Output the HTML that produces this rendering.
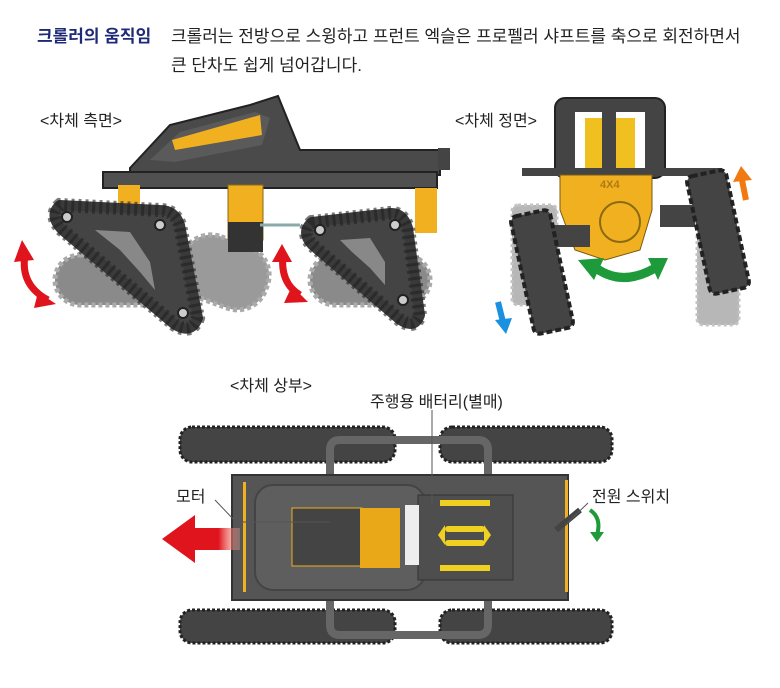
<!DOCTYPE html>
<html><head><meta charset="utf-8"><style>
body{margin:0;background:#fff;width:780px;height:688px;overflow:hidden;position:relative;font-family:"Liberation Sans","Noto Sans CJK KR",sans-serif;}
.t{position:absolute;color:#222;font-size:16px;white-space:nowrap;}
svg{position:absolute;left:0;top:0}
</style></head><body>
<svg width="780" height="688" viewBox="0 0 780 688">
<defs>
<linearGradient id="rg" x1="0" x2="1"><stop offset="0" stop-color="#e0141c"/><stop offset="0.6" stop-color="#e0141c"/><stop offset="1" stop-color="#f5b0a0" stop-opacity="0.3"/></linearGradient>
</defs>
<!-- SIDE VIEW -->
<g>
 <rect x="55" y="255" width="120" height="50" rx="25" fill="#8a8a8a" stroke="#aaa" stroke-width="5" stroke-dasharray="4 3"/>
 <rect x="180" y="240" width="90" height="65" rx="30" fill="#9a9a9a" stroke="#aaa" stroke-width="5" stroke-dasharray="4 3" transform="rotate(20 225 270)"/>
 <rect x="310" y="255" width="120" height="50" rx="25" fill="#8a8a8a" stroke="#aaa" stroke-width="5" stroke-dasharray="4 3"/>
 <polygon points="130,168 170,125 250,105 278,96 300,150 440,150 440,175 130,175" fill="#4a4a4a" stroke="#222" stroke-width="2"/>
 <polygon points="150,160 180,132 255,112 270,118 262,145 175,162" fill="#5a5a5a"/>
 <polygon points="172,140 260,115 262,135 175,150" fill="#f0b020"/>
 <rect x="103" y="172" width="334" height="16" fill="#505050" stroke="#222" stroke-width="2"/>
 <rect x="438" y="148" width="12" height="22" fill="#444"/>
 <rect x="228" y="185" width="35" height="55" fill="#f0b020" stroke="#8a6a10"/>
 <rect x="228" y="222" width="35" height="30" fill="#333"/>
 <rect x="118" y="185" width="22" height="30" fill="#f0b020"/>
 <rect x="415" y="188" width="22" height="45" fill="#f0b020"/>
 <line x1="260" y1="225" x2="300" y2="225" stroke="#8aa" stroke-width="3"/>
 <path d="M60,205 Q48,215 62,230 L175,325 Q192,335 198,318 L180,225 Q175,210 160,210 Z" fill="#444" stroke="#3a3a3a" stroke-width="10" stroke-linejoin="round"/>
 <path d="M60,205 Q48,215 62,230 L175,325 Q192,335 198,318 L180,225 Q175,210 160,210 Z" fill="none" stroke="#222" stroke-width="14" stroke-dasharray="3 4" opacity="0.6"/>
 <polygon points="95,230 130,232 150,262 155,290 140,272 120,250" fill="#888"/>
 <circle cx="67" cy="217" r="5" fill="#ccc" stroke="#222" stroke-width="2"/>
 <circle cx="160" cy="225" r="5" fill="#ccc" stroke="#222" stroke-width="2"/>
 <circle cx="183" cy="313" r="5" fill="#ccc" stroke="#222" stroke-width="2"/>
 <path d="M312,222 Q300,232 312,245 L400,320 Q415,330 420,315 L408,228 Q403,212 390,213 Z" fill="#444" stroke="#3a3a3a" stroke-width="10" stroke-linejoin="round"/>
 <path d="M312,222 Q300,232 312,245 L400,320 Q415,330 420,315 L408,228 Q403,212 390,213 Z" fill="none" stroke="#222" stroke-width="14" stroke-dasharray="3 4" opacity="0.6"/>
 <polygon points="340,240 370,238 385,262 385,285 370,268 352,252" fill="#888"/>
 <circle cx="320" cy="230" r="5" fill="#ccc" stroke="#222" stroke-width="2"/>
 <circle cx="395" cy="225" r="5" fill="#ccc" stroke="#222" stroke-width="2"/>
 <circle cx="403" cy="300" r="5" fill="#ccc" stroke="#222" stroke-width="2"/>
 <path d="M25,255 Q20,285 48,300" fill="none" stroke="#e0141c" stroke-width="7"/>
 <polygon points="14,262 22,240 34,260" fill="#e0141c"/><polygon points="38,292 56,304 34,308" fill="#e0141c"/>
 <path d="M283,255 Q280,283 300,295" fill="none" stroke="#e0141c" stroke-width="7"/>
 <polygon points="272,262 282,244 292,262" fill="#e0141c"/><polygon points="292,286 308,302 284,303" fill="#e0141c"/>
</g>
<!-- FRONT VIEW -->
<g>
 <rect x="512" y="205" width="45" height="100" rx="6" fill="#999" opacity="0.7" stroke="#aaa" stroke-width="3" stroke-dasharray="3 3"/>
 <rect x="697" y="230" width="42" height="95" rx="6" fill="#999" opacity="0.7" stroke="#aaa" stroke-width="3" stroke-dasharray="3 3"/>
 <rect x="555" y="98" width="110" height="80" rx="10" fill="#444" stroke="#222" stroke-width="2"/>
 <rect x="575" y="112" width="70" height="60" fill="#fff"/>
 <rect x="585" y="118" width="50" height="50" fill="#f0c020"/>
 <rect x="602" y="100" width="14" height="75" fill="#444"/>
 <rect x="522" y="168" width="200" height="8" fill="#444"/>
 <polygon points="560,175 652,175 652,210 640,250 605,260 575,250 560,210" fill="#f0b020" stroke="#7a5a10"/>
 <circle cx="620" cy="222" r="20" fill="#f0b020" stroke="#8a6a10" stroke-width="2"/>
 <text x="600" y="188" font-size="11" font-weight="bold" fill="#b07a10" font-family="Liberation Sans">4X4</text>
 <rect x="550" y="225" width="40" height="22" fill="#444"/><rect x="660" y="205" width="35" height="22" fill="#444"/>
 <rect x="522" y="212" width="40" height="120" rx="6" fill="#444" stroke="#222" stroke-width="4" stroke-dasharray="6 3" transform="rotate(-12 542 272)"/>
 <rect x="698" y="172" width="40" height="120" rx="6" fill="#444" stroke="#222" stroke-width="4" stroke-dasharray="6 3" transform="rotate(-12 718 232)"/>
 <path d="M592,265 Q622,290 660,265" fill="none" stroke="#1f9a3a" stroke-width="9"/>
 <polygon points="578,260 604,258 594,280" fill="#1f9a3a"/><polygon points="668,258 648,258 658,280" fill="#1f9a3a"/>
 <line x1="746" y1="200" x2="742" y2="180" stroke="#f07a10" stroke-width="6"/><polygon points="733,182 741,166 752,180" fill="#f07a10"/>
 <line x1="498" y1="302" x2="503" y2="322" stroke="#1a90e0" stroke-width="6"/><polygon points="495,320 512,318 506,334" fill="#1a90e0"/>
</g>
<!-- TOP VIEW -->
<g>
 <g fill="#444" stroke="#222" stroke-width="3" stroke-dasharray="3 2">
 <rect x="180" y="427" width="215" height="35" rx="12"/><rect x="440" y="427" width="172" height="35" rx="12"/>
 <rect x="180" y="610" width="215" height="33" rx="12"/><rect x="440" y="610" width="172" height="33" rx="12"/>
 </g>
 <path d="M330,480 L330,450 Q330,440 340,440 L478,440 Q488,440 488,450 L488,480" fill="none" stroke="#666" stroke-width="8"/>
 <path d="M330,595 L330,625 Q330,635 340,635 L478,635 Q488,635 488,625 L488,595" fill="none" stroke="#666" stroke-width="8"/>
 <rect x="232" y="475" width="336" height="125" fill="#555" stroke="#333" stroke-width="2"/>
 <rect x="243" y="482" width="3" height="110" fill="#f0b020"/><rect x="565" y="480" width="3" height="112" fill="#f0b020"/>
 <rect x="255" y="485" width="170" height="105" rx="18" fill="#5e5e5e" stroke="#444" stroke-width="2"/>
 <rect x="292" y="508" width="70" height="58" fill="#444" stroke="#f0b020"/>
 <rect x="360" y="508" width="40" height="60" fill="#e8a818"/>
 <rect x="418" y="495" width="95" height="85" fill="#4e4e4e" stroke="#333"/>
 <rect x="440" y="500" width="50" height="6" fill="#f0d020"/><rect x="440" y="565" width="50" height="6" fill="#f0d020"/>
 <rect x="445" y="526" width="40" height="6" rx="3" fill="#f0d020"/><rect x="445" y="540" width="40" height="6" rx="3" fill="#f0d020"/>
 <polygon points="445,525 445,545 438,535" fill="#f0d020"/>
 <polygon points="484,525 484,545 491,535" fill="#f0d020"/>
 <rect x="405" y="505" width="14" height="60" fill="#eee"/>
 <line x1="556" y1="530" x2="580" y2="510" stroke="#444" stroke-width="6"/>
 <path d="M590,510 Q602,518 597,535" fill="none" stroke="#1f9a3a" stroke-width="4"/><polygon points="590,532 604,532 597,542" fill="#1f9a3a"/>
 <rect x="186" y="528" width="54" height="22" fill="url(#rg)"/>
 <polygon points="162,539 195,515 195,563" fill="#e0141c"/>
 <line x1="432" y1="410" x2="432" y2="505" stroke="#555" stroke-width="1"/>
 <polyline points="215,500 236,522 330,522" fill="none" stroke="#555" stroke-width="1"/>
 <line x1="588" y1="503" x2="565" y2="525" stroke="#555" stroke-width="1"/>
</g>
</svg>
<div class="t" style="left:37px;top:22px;color:#1e2a78;font-weight:bold;font-size:17px;">크롤러의 움직임</div>
<div class="t" style="left:171px;top:22px;font-size:17px;">크롤러는 전방으로 스윙하고 프런트 엑슬은 프로펠러 샤프트를 축으로 회전하면서</div>
<div class="t" style="left:171px;top:51px;font-size:17px;">큰 단차도 쉽게 넘어갑니다.</div>
<div class="t" style="left:40px;top:107px;">&lt;차체 측면&gt;</div>
<div class="t" style="left:455px;top:107px;">&lt;차체 정면&gt;</div>
<div class="t" style="left:230px;top:372px;">&lt;차체 상부&gt;</div>
<div class="t" style="left:370px;top:388px;">주행용 배터리(별매)</div>
<div class="t" style="left:176px;top:483px;">모터</div>
<div class="t" style="left:592px;top:483px;">전원 스위치</div>
</body></html>
